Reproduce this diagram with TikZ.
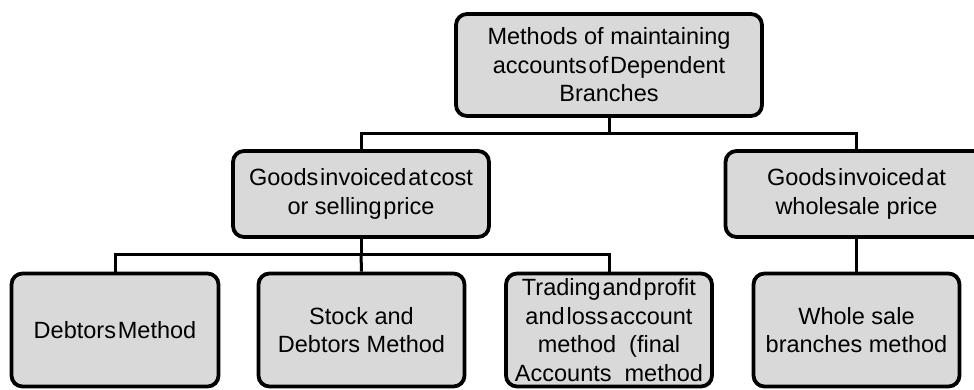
\documentclass[tikz,border=0pt]{standalone}
\usepackage{fontspec}
\setmainfont{Liberation Sans}
\newcommand{\tsp}{\hspace{0.08em}}
\begin{document}
\begin{tikzpicture}[x=1pt,y=-1pt,
  box/.style={draw=black,line width=3.8pt,fill=boxgray,rounded corners=11pt,
    align=center,inner sep=0pt,font=\fontsize{23.5}{28.5}\selectfont},
  conn/.style={draw=black,line width=3pt}]
\definecolor{boxgray}{HTML}{D9D9D9}
\useasboundingbox (0,0) rectangle (974,389);
\clip (0,0) rectangle (974,389);
\node[box,minimum width=306pt,minimum height=102pt] (top) at (609,65)
  {Methods of maintaining\\accounts\tsp of\tsp Dependent\\Branches};
\node[box,minimum width=256pt,minimum height=86pt] (ml) at (361,194)
  {Goods\tsp invoiced\tsp at\tsp cost\\or selling\tsp price};
\node[box,minimum width=262pt,minimum height=86pt] (wr) at (856.5,194)
  {Goods\tsp invoiced\tsp at\\wholesale price};
\node[box,minimum width=207pt,minimum height=113pt] (d1) at (115,330)
  {Debtors\tsp Method};
\node[box,minimum width=206pt,minimum height=113pt] (d2) at (361.5,330)
  {Stock and\\Debtors Method};
\node[box,minimum width=206pt,minimum height=113pt] (d3) at (609,330)
  {Trading\tsp and\tsp profit\\and\tsp loss\tsp account\\method\ \ (final\\Accounts\ \ method};
\node[box,minimum width=206pt,minimum height=113pt] (d4) at (856.5,330)
  {Whole sale\\branches method};
\coordinate (bus1) at (0,133);
\coordinate (bus2) at (0,254);
\draw[conn] (top.south) -- (top.south|-bus1) -| (ml.north);
\draw[conn] (top.south|-bus1) -| (wr.north);
\draw[conn] (ml.south) -- (ml.south|-bus2) -| (d1.north);
\draw[conn] (ml.south|-bus2) -- (d2.north);
\draw[conn] (ml.south|-bus2) -| (d3.north);
\draw[conn] (wr.south) -- (d4.north);
\end{tikzpicture}
\end{document}
